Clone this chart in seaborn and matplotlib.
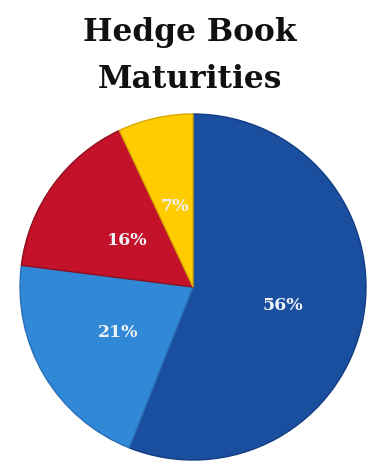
import matplotlib
matplotlib.use("Agg")
import matplotlib.pyplot as plt
import numpy as np
import seaborn as sns

# Hedge book maturity split (percent)
buckets = ["Bucket A", "Bucket B", "Bucket C", "Bucket D"]
shares = [56, 21, 16, 7]
pct_labels = ["56%", "21%", "16%", "7%"]

sns.set_theme(style="white")
plt.rcParams["font.family"] = ["DejaVu Serif", "DejaVu Sans"]

colors = sns.color_palette(["#1A4E9F", "#3088D6", "#C4122A", "#FFCC00"])
edge_colors = ["#123E80", "#2A6FB5", "#8E0F1D", "#D9A800"]

fig = plt.figure(figsize=(3.84, 4.64), dpi=100)
ax = fig.add_axes([20 / 384, 3 / 464, 346 / 384, 346 / 464])

wedges, _ = ax.pie(
    shares,
    colors=colors,
    startangle=90,
    counterclock=False,
    radius=1.0,
    wedgeprops=dict(linewidth=1.0),
)
for w, ec in zip(wedges, edge_colors):
    w.set_edgecolor(ec)

# percentage labels inside each slice
total = float(sum(shares))
start = 90.0
dists = [0.53, 0.50, 0.47, 0.48]
for val, lab, d in zip(shares, pct_labels, dists):
    span = 360.0 * val / total
    mid = np.deg2rad(start - span / 2)
    ax.text(d * np.cos(mid), d * np.sin(mid), lab, ha="center", va="center",
            fontsize=12.5, fontweight="bold", color="#EEF2F7")
    start -= span

ax.set_xlim(-1, 1)
ax.set_ylim(-1, 1)
ax.set_aspect("equal")
ax.axis("off")

fig.text(0.495, 1 - 33 / 464, "Hedge Book", ha="center", va="center",
         fontsize=22.5, fontweight="bold", color="#111111")
fig.text(0.495, 1 - 79 / 464, "Maturities", ha="center", va="center",
         fontsize=22.5, fontweight="bold", color="#111111")

fig.savefig("out.png", dpi=100, facecolor="white")
